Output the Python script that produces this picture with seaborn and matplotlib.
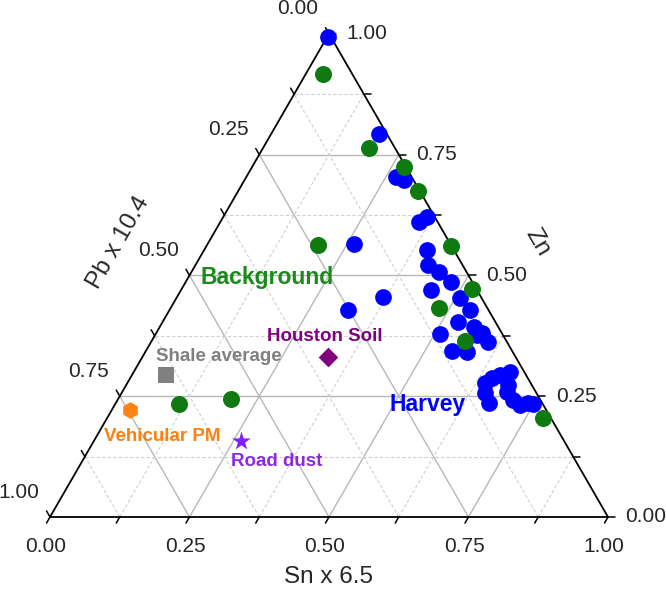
import numpy as np
import pandas as pd
import matplotlib
matplotlib.use("Agg")
import matplotlib.pyplot as plt
import seaborn as sns

# fractions: Zn, Sn x 6.5, Pb x 10.4
harvey_zn = [0.993, 0.793, 0.703, 0.698, 0.620, 0.611, 0.553, 0.522, 0.507, 0.487,
             0.469, 0.453, 0.565, 0.456, 0.429, 0.429, 0.404, 0.394, 0.380, 0.378,
             0.363, 0.344, 0.342, 0.377, 0.301, 0.294, 0.287, 0.277, 0.273, 0.259,
             0.256, 0.235, 0.242, 0.232, 0.235, 0.234]
harvey_sn = [0.001, 0.193, 0.268, 0.285, 0.365, 0.356, 0.400, 0.416, 0.444, 0.476,
             0.448, 0.508, 0.262, 0.368, 0.320, 0.538, 0.530, 0.562, 0.584, 0.510,
             0.604, 0.548, 0.577, 0.576, 0.674, 0.659, 0.648, 0.641, 0.685, 0.689,
             0.652, 0.670, 0.709, 0.726, 0.739, 0.749]
harvey_pb = [1 - z - s for z, s in zip(harvey_zn, harvey_sn)]

background_zn = [0.917, 0.763, 0.724, 0.674, 0.560, 0.471, 0.433, 0.364, 0.204,
                 0.563, 0.234, 0.244]
background_sn = [0.030, 0.191, 0.272, 0.323, 0.438, 0.520, 0.480, 0.562, 0.782,
                 0.199, 0.115, 0.202]
background_pb = [1 - z - s for z, s in zip(background_zn, background_sn)]

# reference materials
ref_names = ["Houston Soil", "Shale average", "Vehicular PM", "Road dust"]
ref_zn = [0.332, 0.293, 0.222, 0.158]
ref_sn = [0.333, 0.062, 0.032, 0.263]
ref_pb = [0.335, 0.645, 0.746, 0.579]

axis_ticks = [0.0, 0.25, 0.5, 0.75, 1.0]
minor_ticks = [0.125, 0.375, 0.625, 0.875]

SQ3 = np.sqrt(3) / 2


def to_xy(zn, sn):
    zn = np.asarray(zn, dtype=float)
    sn = np.asarray(sn, dtype=float)
    return sn + zn / 2, zn * SQ3


sns.set_style("white")
plt.rcParams["font.family"] = ["Liberation Sans", "DejaVu Sans"]

fig = plt.figure(figsize=(6.66, 5.91), dpi=100)
ax = fig.add_axes([0, 0, 1, 1])
ax.set_xlim(-50 / 558, 616 / 558)
ax.set_ylim(-74 / 558, 517 / 558)
ax.axis("off")

px = 1 / 558  # one pixel in data units

# grid
for c in axis_ticks[1:-1] + minor_ticks:
    major = c in axis_ticks
    kw = dict(color="#b8b8b8", lw=1.0, ls="-") if major else dict(color="#cfcfcf", lw=0.8, ls=(0, (3, 2)))
    # Zn const
    x, y = to_xy([c, c], [0, 1 - c])
    ax.plot(x, y, zorder=1, **kw)
    # Sn const
    x, y = to_xy([0, 1 - c], [c, c])
    ax.plot(x, y, zorder=1, **kw)
    # Pb const
    x, y = to_xy([0, 1 - c], [1 - c, 0])
    ax.plot(x, y, zorder=1, **kw)

# triangle frame
x, y = to_xy([0, 0, 1, 0], [0, 1, 0, 0])
ax.plot(x, y, color="black", lw=1.3, zorder=2, solid_joinstyle="miter")

# ticks and tick labels
tl = 7 * px
for c in axis_ticks + minor_ticks:
    # Zn on right edge
    x0, y0 = to_xy(c, 1 - c)
    ax.plot([x0, x0 + tl], [y0, y0], color="black", lw=1.1, zorder=2)
    # Sn on bottom edge
    x0, y0 = to_xy(0, c)
    ax.plot([x0, x0 - 0.5 * tl], [y0, y0 - SQ3 * tl], color="black", lw=1.1, zorder=2)
    # Pb on left edge
    x0, y0 = to_xy(1 - c, 0)
    ax.plot([x0, x0 - 0.5 * tl], [y0, y0 + SQ3 * tl], color="black", lw=1.1, zorder=2)

for c in axis_ticks:
    lab = f"{c:.2f}"
    x0, y0 = to_xy(c, 1 - c)
    ax.text(x0 + 38 * px, y0, lab, fontsize=15, ha="center", va="center")
    x0, y0 = to_xy(0, c)
    ax.text(x0 - 4 * px, y0 - 30 * px, lab, fontsize=15, ha="center", va="center")
    x0, y0 = to_xy(1 - c, 0)
    ax.text(x0 - 31 * px, y0 + 25 * px, lab, fontsize=15, ha="center", va="center")

ax.text(0.5, -0.1075, "Sn x 6.5", fontsize=17.5, ha="center", va="center")
ax.text(0.122, 0.491, "Pb x 10.4", fontsize=17.5, ha="center", va="center", rotation=60)
ax.text(0.873, 0.493, "Zn", fontsize=17.5, ha="center", va="center", rotation=-60)

# data
hx, hy = to_xy(harvey_zn, harvey_sn)
harvey = pd.DataFrame({"x": hx, "y": hy})
bx, by = to_xy(background_zn, background_sn)
background = pd.DataFrame({"x": bx, "y": by})

sns.scatterplot(data=harvey, x="x", y="y", ax=ax, color="#0000ff", s=145,
                linewidth=0, marker="o", zorder=3, legend=False)
sns.scatterplot(data=background, x="x", y="y", ax=ax, color="#0f7a0f", s=150,
                linewidth=0, marker="o", zorder=4, legend=False)

ref_colors = ["#800080", "#808080", "#ff8214", "#7f1fff"]
ref_markers = ["D", "s", "h", "*"]
ref_sizes = [100, 118, 145, 200]
rx, ry = to_xy(ref_zn, ref_sn)
refs = pd.DataFrame({"x": rx, "y": ry, "name": ref_names})
for i, row in refs.iterrows():
    sns.scatterplot(x=[row.x], y=[row.y], ax=ax, color=ref_colors[i], s=ref_sizes[i],
                    marker=ref_markers[i], linewidth=0, zorder=5, legend=False)

# labels
ax.text(0.389, 0.430, "Background", color="#1a8a1a", fontsize=16.5, fontweight="bold",
        ha="center", va="center")
ax.text(0.676, 0.201, "Harvey", color="#0000ff", fontsize=16.5, fontweight="bold",
        ha="center", va="center")
label_pos = [(0.493, 0.323), (0.303, 0.287), (0.201, 0.145), (0.407, 0.099)]
label_colors = ["#800080", "#808080", "#ff7f0e", "#8a2be2"]
for name, (lx, ly), col in zip(ref_names, label_pos, label_colors):
    ax.text(lx, ly, name, color=col, fontsize=13.5, fontweight="bold",
            ha="center", va="center")

ax.set_xlabel("")
ax.set_ylabel("")
fig.savefig("out.png", dpi=100)
plt.close(fig)
